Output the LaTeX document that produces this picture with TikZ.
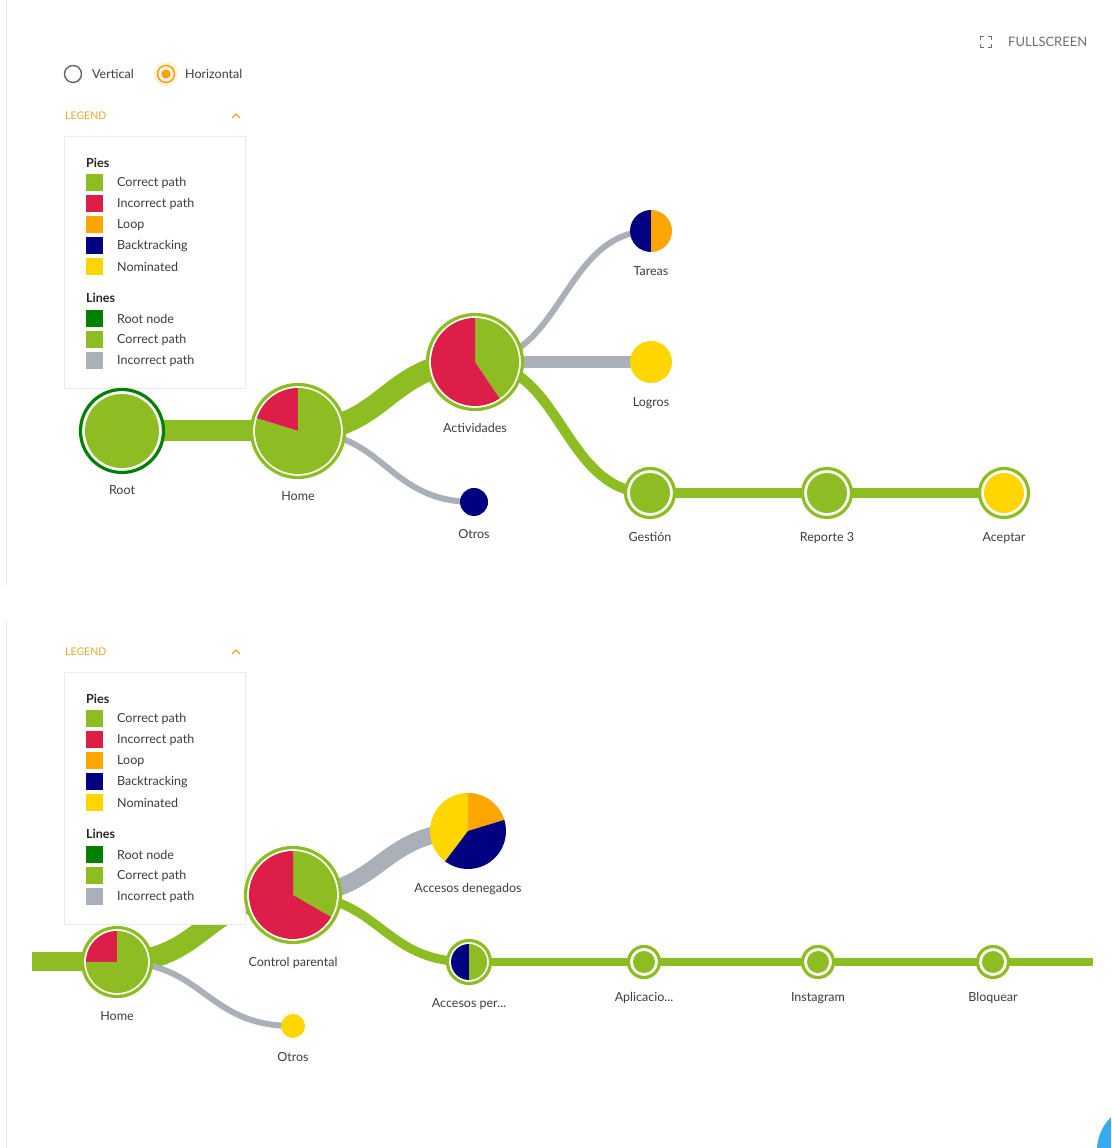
\documentclass[tikz,border=0pt]{standalone}
\usepackage{fontspec}
\setmainfont{Lato}
\usepackage{tikz}
\usetikzlibrary{positioning, backgrounds, shadows}

\definecolor{pathgreen}{RGB}{141, 189, 34}
\definecolor{rootgreen}{RGB}{0, 128, 0}
\definecolor{wrongred}{RGB}{220, 30, 72}
\definecolor{looporange}{RGB}{255, 165, 0}
\definecolor{backnavy}{RGB}{0, 0, 128}
\definecolor{nomyellow}{RGB}{255, 214, 0}
\definecolor{pathgray}{RGB}{170, 176, 184}
\definecolor{labelgray}{RGB}{60, 60, 60}
\definecolor{legendgold}{RGB}{228, 170, 40}
\definecolor{radioorange}{RGB}{245, 160, 0}
\definecolor{radiogray}{RGB}{100, 100, 100}
\definecolor{fsgray}{RGB}{110, 110, 110}
\definecolor{fabblue}{RGB}{55, 170, 240}

\newcommand{\lblfont}{\fontsize{12.5}{15}\selectfont}

% pie slices: node, radius, list of start/end/colour
\newcommand{\pieslices}[3]{%
  \foreach \a/\b/\c in {#3}
    \fill[\c] (#1.center) -- ++(\a:#2) arc[start angle=\a, end angle=\b, radius=#2] -- cycle;}

\tikzset{
  ring/.style={circle, inner sep=0pt, outer sep=0pt, fill=white, line width=3.2pt, draw=#1},
  ring/.default=pathgreen,
  leaf/.style={circle, inner sep=0pt, outer sep=0pt, fill=#1},
  leaf/.default=none,
  lbl/.style={font=\lblfont, text=labelgray, inner sep=0pt, text height=8.5pt, text depth=2.5pt},
  goodlink/.style={pathgreen, line width=#1},
  badlink/.style={pathgray, line width=#1},
  swatch/.style={fill=#1, minimum size=17pt, inner sep=0pt},
  entry/.style={font=\lblfont, text=labelgray, inner sep=0pt, anchor=west},
  grouphead/.style={font=\lblfont\bfseries, text=black!85, inner sep=0pt, anchor=west},
  legendhead/.style={font=\fontsize{10.5}{12}\selectfont, text=legendgold, inner sep=0pt, anchor=west},
  legendbox/.style={fill=white, draw=black!8, minimum width=181pt, minimum height=252pt, inner sep=0pt,
    drop shadow={shadow xshift=0pt, shadow yshift=-1.5pt, opacity=0.18}},
  radio/.style={circle, draw=#1, line width=1.4pt, minimum size=17pt, inner sep=0pt},
}

\begin{document}
\begin{tikzpicture}[x=1pt, y=1pt]
    \useasboundingbox (0,0) rectangle (1111,1148);

    % page edges
    \draw[black!10, line width=1pt] (6,1148) -- (6,563);
    \draw[black!10, line width=1pt] (6,528) -- (6,0);

    % layout switch
    \node[radio=radiogray] (vert) at (73,1074) {};
    \node[entry] (vert-t) at (92,1074) {Vertical};
    \fill[radioorange!15] (166,1074) circle (12pt);
    \node[radio=radioorange] (horiz) at (166,1074) {};
    \fill[radioorange] (horiz.center) circle (4.5pt);
    \node[entry] (horiz-t) at (185,1074) {Horizontal};

    % fullscreen button
    \begin{scope}[fsgray, line width=1.3pt]
        \draw (980.5,1108) -- (980.5,1111.5) -- (984,1111.5);
        \draw (988,1111.5) -- (991.5,1111.5) -- (991.5,1108);
        \draw (991.5,1104) -- (991.5,1100.5) -- (988,1100.5);
        \draw (984,1100.5) -- (980.5,1100.5) -- (980.5,1104);
    \end{scope}
    \node[entry, text=fsgray, font=\fontsize{13}{15}\selectfont] (fs) at (1008,1106) {FULLSCREEN};

    % legends (top and bottom view)
    \foreach \p/\dy in {a/0, b/-536} {
        \begin{scope}[yshift=\dy pt]
            \node[legendhead] (\p-head) at (65,1032) {LEGEND};
            \draw[legendgold, line width=1.2pt] (232,1030) -- (236,1034) -- (240,1030);
            \node[legendbox] (\p-box) at (154.5,886) {};
            \node[grouphead] (\p-pies) at (86,985) {Pies};
            \foreach \c/\t [count=\i] in {pathgreen/Correct path, wrongred/Incorrect path,
                looporange/Loop, backnavy/Backtracking, nomyellow/Nominated} {
                \node[swatch=\c] (\p-ps\i) at (94.5,986-21*\i) {};
                \node[entry] (\p-pt\i) at (117,986-21*\i) {\t};
            }
            \node[grouphead] (\p-lines) at (86,850) {Lines};
            \foreach \c/\t [count=\i] in {rootgreen/Root node, pathgreen/Correct path,
                pathgray/Incorrect path} {
                \node[swatch=\c] (\p-ls\i) at (94.5,850-21*\i) {};
                \node[entry] (\p-lt\i) at (117,850-21*\i) {\t};
            }
        \end{scope}
    }

    % top view: nodes
    \node[ring=rootgreen, minimum size=83pt] (root) at (122,717) {};
    \fill[pathgreen] (root.center) circle (37pt);
    \node[ring, minimum size=93pt] (home) at (298,717) {};
    \pieslices{home}{43}{90/163/wrongred, 163/450/pathgreen}
    \node[ring, minimum size=95pt] (act) at (475,786) {};
    \pieslices{act}{44}{-56/90/pathgreen, 90/304/wrongred}
    \node[leaf=backnavy, minimum size=28pt] (otros) at (474,646) {};
    \node[leaf, minimum size=42pt] (tareas) at (651,917) {};
    \pieslices{tareas}{21}{90/270/backnavy, 270/450/looporange}
    \node[leaf=nomyellow, minimum size=42pt] (logros) at (651,786) {};
    \node[ring, minimum size=49pt] (gestion) at (650,655) {};
    \fill[pathgreen] (gestion.center) circle (20pt);
    \node[ring, minimum size=49pt] (reporte) at (827,655) {};
    \fill[pathgreen] (reporte.center) circle (20pt);
    \node[ring, minimum size=49pt] (aceptar) at (1004,655) {};
    \fill[nomyellow] (aceptar.center) circle (20pt);

    % top view: labels
    \node[lbl, below=13pt of root] (root-l) {Root};
    \node[lbl, below=14pt of home] (home-l) {Home};
    \node[lbl, below=14pt of act] (act-l) {Actividades};
    \node[lbl, below=14pt of otros] (otros-l) {Otros};
    \node[lbl, below=15pt of tareas] (tareas-l) {Tareas};
    \node[lbl, below=15pt of logros] (logros-l) {Logros};
    \node[lbl, below=15pt of gestion] (gestion-l) {Gestión};
    \node[lbl, below=15pt of reporte] (reporte-l) {Reporte 3};
    \node[lbl, below=15pt of aceptar] (aceptar-l) {Aceptar};

    % bottom view: nodes
    \coordinate (inlet) at (32,186);
    \coordinate (outlet) at (1093,186);
    \node[ring, minimum size=69pt] (home2) at (117,186) {};
    \pieslices{home2}{31}{90/180/wrongred, 180/450/pathgreen}
    \node[ring, minimum size=95pt] (parental) at (293,253) {};
    \pieslices{parental}{44}{-30/90/pathgreen, 90/330/wrongred}
    \node[leaf=nomyellow, minimum size=24pt] (otros2) at (293,122) {};
    \node[leaf, minimum size=76pt] (denegados) at (468,317) {};
    \pieslices{denegados}{38}{17/90/looporange, 90/233/nomyellow, 233/377/backnavy}
    \node[ring, minimum size=43pt] (permitidos) at (469,186) {};
    \pieslices{permitidos}{18}{90/270/backnavy, 270/450/pathgreen}
    \node[ring, minimum size=31pt] (aplic) at (644,186) {};
    \fill[pathgreen] (aplic.center) circle (11pt);
    \node[ring, minimum size=31pt] (insta) at (818,186) {};
    \fill[pathgreen] (insta.center) circle (11pt);
    \node[ring, minimum size=31pt] (bloquear) at (993,186) {};
    \fill[pathgreen] (bloquear.center) circle (11pt);

    % bottom view: labels
    \node[lbl, below=15pt of home2] (home2-l) {Home};
    \node[lbl, below=15pt of parental] (parental-l) {Control parental};
    \node[lbl, below=15pt of otros2] (otros2-l) {Otros};
    \node[lbl, below=15pt of denegados] (denegados-l) {Accesos denegados};
    \node[lbl, below=15pt of permitidos] (permitidos-l) {Accesos per...};
    \node[lbl, below=15pt of aplic] (aplic-l) {Aplicacio...};
    \node[lbl, below=15pt of insta] (insta-l) {Instagram};
    \node[lbl, below=15pt of bloquear] (bloquear-l) {Bloquear};

    % links
    \begin{scope}[on background layer]
        \draw[goodlink=21pt] (root.center) -- (home.center);
        \draw[goodlink=22pt] (home.center) .. controls +(88,0) and +(-88,0) .. (act.center);
        \draw[badlink=6pt] (home.center) .. controls +(88,0) and +(-88,0) .. (otros.center);
        \draw[badlink=6pt] (act.center) .. controls +(88,0) and +(-88,0) .. (tareas.center);
        \draw[badlink=12pt] (act.center) -- (logros.center);
        \draw[goodlink=10pt] (act.center) .. controls +(88,0) and +(-88,0) .. (gestion.center);
        \draw[goodlink=10pt] (gestion.center) -- (reporte.center);
        \draw[goodlink=10pt] (reporte.center) -- (aceptar.center);

        \draw[goodlink=19pt] (inlet) -- (home2.center);
        \draw[goodlink=21pt] (home2.center) .. controls +(88,0) and +(-88,0) .. (parental.center);
        \draw[badlink=6pt] (home2.center) .. controls +(88,0) and +(-88,0) .. (otros2.center);
        \draw[badlink=17pt] (parental.center) .. controls +(88,0) and +(-88,0) .. (denegados.center);
        \draw[goodlink=9pt] (parental.center) .. controls +(88,0) and +(-88,0) .. (permitidos.center);
        \draw[goodlink=8pt] (permitidos.center) -- (aplic.center);
        \draw[goodlink=8pt] (aplic.center) -- (insta.center);
        \draw[goodlink=8pt] (insta.center) -- (bloquear.center);
        \draw[goodlink=8pt] (bloquear.center) -- (outlet);
    \end{scope}

    % help button in the corner
    \begin{scope}
        \clip (0,0) rectangle (1111,1148);
        \fill[fabblue] (1142,-2) circle (45pt);
    \end{scope}
\end{tikzpicture}
\end{document}
